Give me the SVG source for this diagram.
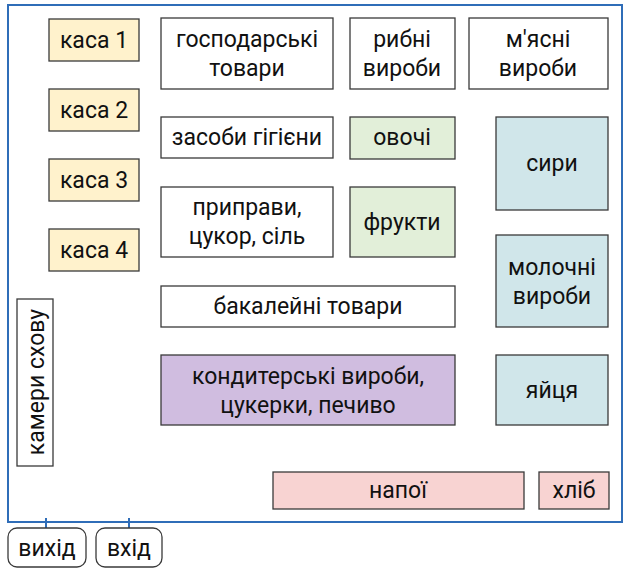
<svg xmlns="http://www.w3.org/2000/svg" width="630" height="573" viewBox="0 0 630 573">
<style>
.b{stroke:#3a3a3a;stroke-width:1.3}
.w{fill:#ffffff}
.y{fill:#fff2cc}
.g{fill:#e2efd9}
.c{fill:#d0e6ea}
.p{fill:#d0bde0}
.r{fill:#f8d3d2}
text{font-family:Roboto,"Liberation Sans",sans-serif;font-size:23px;fill:#111;text-anchor:middle}
.ln{stroke:#2f6db8;stroke-width:2;fill:none}
</style>
<rect x="0" y="0" width="630" height="573" fill="#fff"/>
<g id="frame"><rect class="ln" x="8" y="5" width="614" height="517"/></g>
<g id="connectors">
<line class="ln" x1="46" y1="518" x2="46" y2="528"/>
<line class="ln" x1="129" y1="518" x2="129" y2="528"/>
</g>
<g id="kasa1"><rect class="b y" x="49" y="19" width="90" height="42"/><text x="94" y="48">каса 1</text></g>
<g id="kasa2"><rect class="b y" x="49" y="89" width="90" height="42"/><text x="94" y="118">каса 2</text></g>
<g id="kasa3"><rect class="b y" x="49" y="159" width="90" height="42"/><text x="94" y="188">каса 3</text></g>
<g id="kasa4"><rect class="b y" x="49" y="229" width="90" height="42"/><text x="94" y="258">каса 4</text></g>
<g id="gospodarski"><rect class="b w" x="161" y="18" width="172" height="71"/><text x="247" y="47">господарські</text><text x="247" y="76">товари</text></g>
<g id="rybni"><rect class="b w" x="350" y="18" width="105" height="71"/><text x="402" y="47">рибні</text><text x="402" y="76">вироби</text></g>
<g id="miasni"><rect class="b w" x="469" y="18" width="139" height="71"/><text x="538" y="47">м'ясні</text><text x="538" y="76">вироби</text></g>
<g id="zasoby"><rect class="b w" x="161" y="117" width="172" height="41"/><text x="247" y="145">засоби гігієни</text></g>
<g id="ovochi"><rect class="b g" x="350" y="117" width="105" height="42"/><text x="402" y="145">овочі</text></g>
<g id="syry"><rect class="b c" x="496" y="117" width="112" height="93"/><text x="552" y="171">сири</text></g>
<g id="prypravy"><rect class="b w" x="161" y="187" width="172" height="70"/><text x="247" y="215">приправи,</text><text x="247" y="244">цукор, сіль</text></g>
<g id="frukty"><rect class="b g" x="350" y="187" width="105" height="70"/><text x="402" y="230">фрукти</text></g>
<g id="molochni"><rect class="b c" x="496" y="235" width="112" height="92"/><text x="552" y="275">молочні</text><text x="552" y="304">вироби</text></g>
<g id="bakaleini"><rect class="b w" x="161" y="286" width="294" height="41"/><text x="308" y="314">бакалейні товари</text></g>
<g id="kondyterski"><rect class="b p" x="161" y="355" width="294" height="70"/><text x="308" y="384">кондитерські вироби,</text><text x="308" y="413">цукерки, печиво</text></g>
<g id="yaitsia"><rect class="b c" x="496" y="355" width="112" height="70"/><text x="552" y="398">яйця</text></g>
<g id="napoi"><rect class="b r" x="273" y="472" width="251" height="37"/><text x="398" y="498">напої</text></g>
<g id="khlib"><rect class="b r" x="539" y="472" width="70" height="37"/><text x="574" y="498">хліб</text></g>
<g id="kamery"><rect class="b w" x="17" y="299" width="36" height="167"/><text transform="translate(44,382) rotate(-90)" x="0" y="0">камери схову</text></g>
<g id="vykhid"><rect x="8" y="528" width="78" height="39" rx="9" fill="#fff" stroke="#3a3a3a" stroke-width="1.3"/><text x="47" y="556">вихід</text></g>
<g id="vkhid"><rect x="96" y="528" width="66" height="39" rx="9" fill="#fff" stroke="#3a3a3a" stroke-width="1.3"/><text x="129" y="556">вхід</text></g>
</svg>
